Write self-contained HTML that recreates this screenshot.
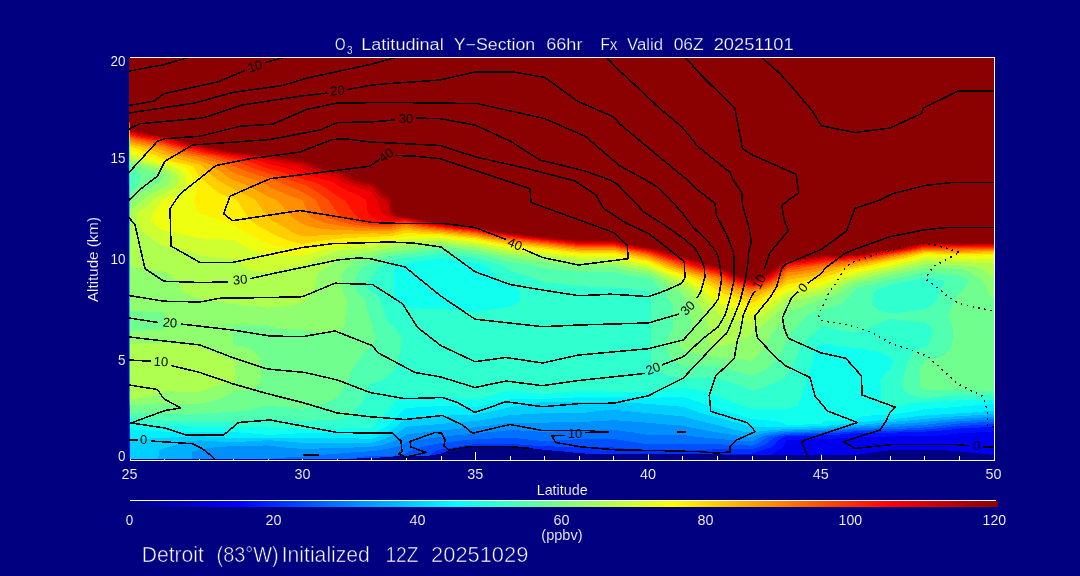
<!DOCTYPE html>
<html lang="en">
<head>
<meta charset="utf-8">
<title>O3 Latitudinal Y-Section 66hr Fx Valid 06Z 20251101</title>
<style>
html,body{margin:0;padding:0;background:#000080;}
body{width:1080px;height:576px;overflow:hidden;}
svg{display:block;}
text{font-family:"Liberation Sans",sans-serif;fill:#fff;}
#labels text{stroke:#000080;stroke-width:0.15px;}
#labels .tt{stroke-width:0.25px;}
#labels .tb{stroke-width:0.55px;}
.ax{fill:none;stroke:#fff;stroke-width:1;}
.cl{fill:none;stroke:#000;stroke-width:1.55;stroke-linejoin:round;shape-rendering:crispEdges;}
.dl{fill:none;stroke:#000;stroke-width:1.6;stroke-dasharray:1.6 4.4;shape-rendering:crispEdges;}
.lb{fill:#000;font-size:13px;text-anchor:middle;}
</style>
</head>
<body>
<svg width="1080" height="576" viewBox="0 0 1080 576">
<defs>
<linearGradient id="cb" x1="0" x2="1" y1="0" y2="0"><stop offset="0.0000" stop-color="#000080"/><stop offset="0.0312" stop-color="#00009f"/><stop offset="0.0625" stop-color="#0000bf"/><stop offset="0.0938" stop-color="#0000df"/><stop offset="0.1250" stop-color="#0000ff"/><stop offset="0.1562" stop-color="#0020ff"/><stop offset="0.1875" stop-color="#0040ff"/><stop offset="0.2188" stop-color="#0060ff"/><stop offset="0.2500" stop-color="#0080ff"/><stop offset="0.2812" stop-color="#009fff"/><stop offset="0.3125" stop-color="#00bfff"/><stop offset="0.3438" stop-color="#00dfff"/><stop offset="0.3750" stop-color="#00ffff"/><stop offset="0.4062" stop-color="#20ffdf"/><stop offset="0.4375" stop-color="#40ffbf"/><stop offset="0.4688" stop-color="#60ff9f"/><stop offset="0.5000" stop-color="#80ff80"/><stop offset="0.5312" stop-color="#9fff60"/><stop offset="0.5625" stop-color="#bfff40"/><stop offset="0.5938" stop-color="#dfff20"/><stop offset="0.6250" stop-color="#ffff00"/><stop offset="0.6562" stop-color="#ffdf00"/><stop offset="0.6875" stop-color="#ffbf00"/><stop offset="0.7188" stop-color="#ff9f00"/><stop offset="0.7500" stop-color="#ff8000"/><stop offset="0.7812" stop-color="#ff6000"/><stop offset="0.8125" stop-color="#ff4000"/><stop offset="0.8438" stop-color="#ff2000"/><stop offset="0.8750" stop-color="#ff0000"/><stop offset="0.9062" stop-color="#e20000"/><stop offset="0.9375" stop-color="#c50000"/><stop offset="0.9688" stop-color="#a80000"/><stop offset="1.0000" stop-color="#8b0000"/></linearGradient>
<linearGradient id="lc" x1="0" x2="0" y1="0" y2="1"><stop offset="0.0000" stop-color="#8b0000"/><stop offset="0.1596" stop-color="#8b0000"/><stop offset="0.1621" stop-color="#ff6e00"/><stop offset="0.1746" stop-color="#ff6e00"/><stop offset="0.1820" stop-color="#ffa200"/><stop offset="0.1970" stop-color="#ffd500"/><stop offset="0.1995" stop-color="#44ffbb"/><stop offset="0.2294" stop-color="#2bffd4"/><stop offset="0.2668" stop-color="#00ffff"/><stop offset="0.3292" stop-color="#00c3ff"/><stop offset="0.6035" stop-color="#00b2ff"/><stop offset="0.8529" stop-color="#0088ff"/><stop offset="0.8728" stop-color="#004dff"/><stop offset="0.9526" stop-color="#001aff"/><stop offset="1.0000" stop-color="#0000ff"/></linearGradient>
<clipPath id="box"><rect x="130" y="58" width="864" height="401"/></clipPath>
<clipPath id="lbox"><rect x="129" y="58" width="865" height="402"/></clipPath>
<clipPath id="nv"><path d="M345,459L380,457.5L400,456L430,455.5L441,453.5L450,450L460,448L470,446.3L508,446.3L520,447.3L533,448.7L550,450.3L566,451.7L580,453.3L600,454.2L760,454.6L855,455L866,453.5L877,451.7L893,450L910,449.7L940,449.8L960,451.5L977,453.3L995,455L996,461L345,461Z"/><rect x="129" y="459" width="866" height="2"/></clipPath>
</defs>
<rect width="1080" height="576" fill="#000080"/>
<g id="field" clip-path="url(#box)" shape-rendering="crispEdges">
<rect x="129" y="57" width="866" height="404" fill="#00008f"/>
<path fill="#0000af" d="M128,56L996,56L996,461L128,461Z"/>
<path fill="#0000cf" d="M128,56L996,56L996,461L128,461Z"/>
<path fill="#0000ef" d="M128,56L996,56L996,461L128,461Z"/>
<path fill="#0010ff" d="M128,56L996,56L996,431.3L983.1,432L968.9,433L959.9,433.3L951.7,434L945.9,435L932.8,436L925.3,436.3L890.7,436.4L866,437L856.1,437.3L842.3,438L827.1,439L821.5,439.2L786.9,440.2L785.8,441L785,443L784,445L783.3,446L782.5,447L781.5,448L780.3,449L778.8,450L776.9,451L775.6,452L774.1,453L772.5,454L770.5,455L768.3,456L765.9,457L763.1,458L760,459L760,461L128,461Z"/>
<path fill="#0030ff" d="M128,56L996,56L996,426.5L987,427L972.2,428L959.9,428.5L955.1,429L948.2,430L936.7,431L925.3,431.6L913.8,432L890.7,432.7L856.1,432.7L852.5,433L846.5,434L832.5,435L821.5,435.4L799.5,436L786.9,436.4L783.3,437L782,438L779.2,440L777.7,441L776.1,443L774.1,445L772.6,446L770.8,447L768.6,448L766,449L762.7,450L758.4,451L756.2,452L753.7,453L752.3,453.5L735,454L717.7,454.6L712.5,455L698.7,456L684.8,457L683.1,457.1L648.5,457.1L635.5,457L613.9,456.8L579.3,456.4L544.7,456.8L516.6,456L510.1,455.8L475.5,455.8L474.5,456L462.5,459L462.5,461L128,461Z"/>
<path fill="#0050ff" d="M128,56L996,56L996,424L978,425L959.9,426L951.3,427L941.7,428L931.1,429L925.3,429.5L915.4,430L890.7,431L856.1,431.2L846.9,432L834.6,433L821.5,434L786.9,435L780.6,436L775.7,437L771.2,440L769.6,441L767.2,443L764.2,445L761.8,446L759.1,447L755.7,448L752.3,448.9L738.5,449L717.7,449.3L683.1,450.5L648.5,450.2L644.1,450L629.5,449L618.5,448L613.9,447.5L579.3,447L544.7,446.3L540.4,446L526.5,445L513.3,444L510.1,443.8L475.5,444L467.8,445L460.7,446L456.2,447L450.5,448L442.8,449L440.9,449.2L437.4,450L434.4,452L432.8,453L429.8,455L428.2,456L426.7,457L425.1,458L423.6,459L423.6,461L128,461Z"/>
<path fill="#0070ff" d="M128,56L996,56L996,421.5L987.3,422L968.9,423L959.9,423.5L955.2,424L946.2,425L937.7,426L929.6,427L925.3,427.4L914.3,428L897.9,429L890.7,429.3L856.1,429.7L829.6,432L821.5,432.6L808.9,433L786.9,433.6L783.8,434L777.1,435L772,436L768.1,437L764.9,439L761.5,441L759.9,442L758.2,443L756.4,444L754.3,445L752.3,445.6L731.5,445L717.7,444.3L683.1,444L648.5,444.4L646.3,444L640.1,443L620.6,440L613.9,439L579.3,439L566.9,440L546.1,441L544.7,441.1L544.1,441L531.7,440L523.9,439L515,438L510.1,437.5L502.9,438L481.3,439L475.5,439.2L466.7,440L457.4,441L449.6,442L442.3,443L440.9,443.2L436.2,444L430.9,445L426.1,446L421.9,447L418.1,448L414.6,449L411.5,450L410,451L408.4,452L406.3,453.4L404.1,454L399.3,455L391.2,456L389,456.2L384.7,456L371.7,455.7L368.5,456L360.4,457L352.8,458L345.8,459L345.8,461L128,461Z"/>
<path fill="#008fff" d="M128,56L996,56L996,419.1L980.2,420L962.2,421L959.9,421.1L950.3,422L940.4,423L931.6,424L925.3,424.8L921.8,425L907.1,426L890.7,427L864.8,428L856.1,428.2L846.9,429L835.3,430L821.5,431.2L786.9,432.2L779.6,433L772.4,434L767.3,435L763.4,436L760.4,437L758.8,438L752.3,441.6L743.2,441L730.4,440L720.5,439L717.7,438.7L709.3,438L698.8,437L690.2,436L683.1,435L648.5,435L643.1,434L637.1,433L630.3,432L622.7,431L613.9,430L579.3,430L561.6,431L544.7,432L529.3,431L510.1,430L501.1,431L491.5,432L481,433L475.5,433.5L470.3,434L459.5,435L448.9,436L440.9,436.8L439,437L431.8,438L424.9,439L418.4,440L413.2,441L408.5,442L406.3,442.5L405.4,443L403.4,444L401.1,445L398.4,446L395.2,447L391.3,448L389,448.5L386.4,449L380.4,450L373.5,451L371.7,451.2L357.9,452L344.8,453L337.1,453.8L333.3,454L319.8,455L308.8,456L302.5,456.7L294.1,457L277.6,458L267.9,459L233.3,459L233.3,461L128,461Z"/>
<path fill="#00afff" d="M128,56L996,56L996,416.8L991.7,417L974,418L959.9,418.8L956.8,419L944.4,420L934.3,421L925.3,421.9L924.5,422L911.9,423L898.1,424L890.7,424.5L885.5,425L871.2,426L856.1,426.7L852.3,427L841.1,428L829.6,429L821.5,429.7L786.9,430.7L782.7,431L772.5,432L765.8,433L760.9,434L757.4,435L754.8,436L752.8,437L752.3,437.3L749.4,437L740.5,436L733,435L726.4,434L720.7,433L717.7,432.4L714.6,432L708.8,431L703.3,430L698.2,429L693.4,428L688.9,427L684.6,426L683.1,425.6L673.7,425L661,424L650.3,423L648.5,422.8L639.1,422L624.5,421L613.9,420.2L600.4,421L579.3,422L577.1,422L544.7,422.6L510.1,422.5L507,423L500.5,424L493.3,425L485.5,426L476.9,427L475.5,427.2L466.4,428L455.7,429L445.2,430L440.9,430.4L435.1,431L426,432L417.6,433L409.9,434L406.3,434.5L403.8,436L402,437L400.1,438L398.1,439L393.9,441L391.4,442L389,442.9L385,444L380.9,445L376.3,446L371.7,446.9L367.1,447L340.4,448L337.1,448.1L302.5,448.9L290.4,448L280.4,447L272.4,446L267.9,445.3L250.6,446L233.3,446.2L216,447L209.4,448L202.4,449L198.7,449.5L197.2,450L194.5,451L192.2,452L192.2,461L128,461Z"/>
<path fill="#00cfff" d="M128,56L996,56L996,413.9L994,414L979,415L962.2,416L959.9,416.1L947.4,417L934.7,418L925.3,418.8L923.6,419L913.7,420L902.5,421L890.7,421.9L890,422L879.9,423L869.5,424L859.6,425L856.1,425.2L844.6,426L833,427L823.8,428L821.5,428.2L786.9,429.2L771.5,430L761.6,431L755.8,432L752.3,432.9L746,432L740.1,431L735,430L724.8,427L721.3,426L717.7,425L712.9,424L708.3,423L704,422L700,421L696.1,420L692.4,419L688.9,418L685.5,417L683.1,416.2L680.2,416L668.7,415L657.1,414L648.5,413.2L645.8,413L635.5,412L626.3,411L617.8,410L613.9,409.5L609.1,410L599.8,411L591,412L582.4,413L579.3,413.4L544.7,413.2L531.7,414L510.1,415L505.2,416L500.2,417L494.8,418L488.9,419L482.7,420L475.9,421L475.5,421.1L461.8,422L450,423L439.9,424L427.7,425L414.6,426L406.3,426.8L404.7,428L401.9,430L400.3,431L396.9,433L393.1,435L391.1,436L386.9,438L384.4,439L381.6,440L378.2,441L374.1,442L371.7,442.6L337.1,443L302.5,443L294.5,442L282.3,441L267.9,440.2L253.5,441L239.1,442L233.3,442.5L224.7,442L208.6,441L198.7,440.3L191.3,441L183.4,442L180.4,443L177.3,444L174.3,445L171.2,446L168.2,447L165.1,448L164.1,448.3L159.3,450L159.1,452L158.9,453L158.7,455L158.5,456L158.4,457L158.2,458L158.1,459L158.1,461L128,461Z"/>
<path fill="#00efff" d="M128,56L996,56L996,410.6L990.1,411L978.9,412L964.7,413L959.9,413.3L948,414L932.7,415L925.3,415.5L920,416L910.9,417L903.9,418L893.5,419L890.7,419.2L883.1,420L862.9,422L856.1,422.7L852.5,423L844.7,424L834.7,425L822.9,426L821.5,426.1L791.8,427L786.9,427.1L752.3,427.3L744.7,425L741.3,424L734.3,422L727.1,420L723.4,419L717.7,417.5L711.8,416L708.1,415L704.5,414L701.1,413L697.9,412L695.2,411L692.4,410L689.5,409L683.5,407L683.1,406.9L673,406L650,404L648.5,403.9L636.7,403L613.9,402.1L603.5,402L579.3,401.7L544.7,401.8L541.5,402L537.2,403L532.3,404L526.7,405L520.2,406L512.6,407L510.1,407.3L506.9,408L502.4,409L497.7,410L487.9,412L482.9,413L478,414L475.5,414.5L461.4,415L440.9,415.8L438.1,416L426.1,417L413.9,418L406.3,418.6L405.8,419L404.4,420L400.8,423L399.7,424L398.7,425L397.3,426L395.8,427L392.6,429L385.4,433L383.7,434L382.1,435L379.8,436L377.2,437L374.2,438L371.7,438.8L337.1,438L302.5,438L267.9,437.6L233.3,438L217.6,437L198.7,436.2L178.7,437L164.1,437.9L160.8,438L142.1,439L135.6,440L133,441L131,442L129.3,443L128,444Z"/>
<path fill="#10ffef" d="M128,56L996,56L996,404L980,405L967.1,406L959.9,406.7L955.2,407L940.7,408L925.3,409L920.5,410L915.4,411L909.9,412L904,413L896.5,414L890.7,414.7L877.2,415L864.3,416L860.2,417L858.1,418L856.7,419L856.1,420L826.1,421L823.2,422L822.1,423L821.5,424L786.9,425L785.1,424L782.6,423L779.2,422L774,421L765.5,420L752.3,419.2L751.7,419L748.2,418L744.6,417L741.7,416L738.5,415L735,414L731.2,413L727.1,412L724,411L720.8,410L717.7,409L715.2,408L707.1,405L698.4,402L692.2,400L689.3,399L686,398L683.1,397.2L648.5,397.7L613.9,397.3L579.3,397.2L565.5,398L544.7,398.8L518.2,399L510.1,399.2L502.5,401L493.9,403L484.9,405L475.5,407L440.9,406L406.3,408L404.9,409L402.5,411L400.5,413L398.7,415L396.7,417L395.5,418L394.4,419L392.4,421L390.6,423L389,425L386.9,426L384.9,427L381.1,429L377.7,431L376.1,432L373.1,434L371.7,435L356,434L337.1,433.2L302.5,433.2L283.6,434L267.9,435L258,434L246.6,433L233.3,432L198.7,432L164.1,431.7L153.8,431L140,430L128,429Z"/>
<path fill="#30ffcf" d="M128,56L996,56L996,399.5L967.3,400L959.9,400.1L948.6,401L930.8,402L925.3,402.2L912.3,403L905.1,404L903.4,405L898.6,406L893.4,407L890.7,407.5L888.2,407L884.1,406L881,405L880.9,404L880.9,400L880.8,399L880.8,395L880.7,394L880.7,390L880.6,389L880.6,385L880.5,384L880.5,381L880.4,380L883.2,376L884.1,375L884.9,374L887.9,371L889.1,370L890.7,368.8L891,368L891.5,367L892.7,364L893.7,362L893.2,361L892.6,360L891.9,359L890.7,357.5L887.8,356L886.1,355L883.8,354L881.1,353L877.8,352L873.9,351L869.1,350L863.4,349L856.1,348.1L854.8,348L845.4,347L837.7,346L831.4,345L826.6,344L821.5,343L820.3,344L819.2,345L818.2,346L817.1,347L816.2,348L815.2,349L814.3,350L814.1,352L813.9,353L813.8,354L813.4,356L813.3,357L812.1,363L811.8,364L811.4,366L811.1,367L810.9,368L810.6,369L810.4,370L808.6,376L808.2,377L807.9,378L807.5,379L804.8,388L804.4,389L803.8,391L802.6,394L802.3,395L801.9,396L801.4,397L800.6,399L800.1,400L799.7,401L797.7,405L795.5,406L792.8,407L789.7,408L786.9,408.8L752.3,408.8L749.9,408L743.7,406L740.5,405L738.3,404L735.8,403L733.1,402L730.1,401L726.7,400L724.4,399L717.2,396L715,395L712.5,394L709.6,393L706.4,392L702.5,391L697.7,390L692,389L684.8,388L683.1,387.8L681,388L671.1,389L662.3,390L654.5,391L648.5,391.8L613.9,391.8L587.3,391L579.3,390.8L576.9,391L565.6,392L558.4,393L545.7,394L544.7,394.1L543.6,394L530.5,393L524.5,392L516.4,391L510.1,390.4L506.6,391L502.2,392L498.9,393L496.3,394L494.2,395L490.3,396L486.3,397L482.1,398L475.5,399.5L470.1,399L460.5,398L452.1,397L444.6,396L440.9,395.4L409.2,396L406.3,396.1L403.9,397L401.8,398L399.9,399L398.3,400L396.8,401L395.5,402L394.4,403L392.4,405L390.8,407L389.4,409L389,409.8L388.7,410L386.5,412L384.7,414L383.9,415L382.5,416L381.3,417L380.3,418L379.4,419L378,421L377.4,422L376.4,424L376,425L374.2,426L371.7,427.5L359.3,428L337.1,428.6L302.5,428.6L280.3,428L267.9,427.5L250.6,427L233.3,426.6L198.7,426.6L164.1,426.1L163.3,426L153.3,425L142.3,424L128,422.8ZM440.9,258.1L434.1,259L427.2,260L420.6,261L414.5,262L409.2,263L406.3,263.4L404.5,264L401.9,265L399.6,266L397.6,267L396,268L394.4,270L394.4,300L395.2,301L396.1,302L397.2,303L398.4,304L399.8,305L401.4,306L403.3,307L405.6,308L406.3,308.2L440.9,309L454.1,310L466.6,311L475.5,311.8L482,311L489.7,310L496.4,309L502.3,308L507.7,307L510.1,306.5L511.6,306L514.3,305L516.5,304L518.4,303L520.1,302L520.1,301L520,300L520,296L519.9,295L519.9,292L519.8,291L519.8,290L518.3,289L516.6,288L514.7,287L512.6,286L507.6,284L505.4,283L503.5,282L501.7,281L500,280L498.6,279L497.3,278L496.1,277L495,276L493,274L491.4,272L490,270L488.2,267L485.6,266L482.6,265L478.9,264L475.5,263.1L474.9,263L468.1,262L461.2,261L454.2,260L447.3,259Z"/>
<path fill="#50ffaf" d="M128,56L996,56L996,395.5L964.4,395L959.9,394.9L958.6,395L946.9,396L936.3,397L926.8,398L925.3,398.2L917.7,397L913.5,396L910.4,395L908,394L906.8,393L905.8,392L904.9,391L904.2,390L903.4,389L902.2,387L902.2,380L902.6,379L904.7,372L904.9,371L905.5,369L905.7,368L906,367L906.4,365L907.1,364L907.9,363L908.6,362L909.5,359L910.3,357L910.8,356L912,354L912.8,353L913.7,352L914.9,351L916.3,350L918.5,349L921.2,348L925.3,346.8L926.8,346L928.4,345L929.2,343L929.5,342L929.9,341L930.2,340L930.6,339L933.3,330L930.6,327L927.3,324L926,323L925.3,322.5L918.8,322L908,321L899.3,320L892.3,319L890.7,318.8L889.9,319L886.9,320L884,321L881.3,322L878.8,323L874.2,325L872.1,326L870.1,327L868.2,328L864.8,330L861.7,331L858.1,332L856.1,332.5L853,332L846.2,331L838.8,330L834.9,329L830.5,328L825.6,327L821.5,326.2L820.9,327L818.2,330L815.2,332L812.6,334L811.4,335L808.1,338L807.2,339L806.2,340L805.4,341L804.5,342L802.9,344L800.8,347L800.2,348L799.5,349L798.9,350L798.7,351L798.1,353L797.9,354L797.6,355L795.6,360L795.1,361L794.7,362L793.7,364L793.3,365L792.8,366L792.2,367L791.2,369L788.8,373L788.1,374L787.5,375L786.7,376L785.4,377L784,378L782.3,379L780.4,380L778.6,381L776.3,382L774.5,383L772.5,384L770.3,385L767.9,386L765.2,387L762.2,388L758.8,389L755,390L752.3,390.6L743.7,387L741.2,386L733.4,383L730.7,382L727.3,381L724.2,380L720.2,379L717.7,378.4L683.1,378.3L680.2,378L673.6,377L668.9,376L665.3,375L662.6,374L660.3,373L658.5,372L657.1,371L655.8,370L654.7,369L652.9,367L652.3,365L651.5,361L651,356L651,355L650.8,353L650.8,352L650.7,351L650.7,350L650.6,349L650.6,348L650.5,347L650.5,346L650.4,345L650.5,344L650.5,343L650.6,342L650.6,341L650.7,340L650.7,339L650.8,338L650.8,337L651,335L651,334L651.4,330L651.4,305L650.9,300L650.9,299L650.7,297L650.7,296L650.6,295L649.4,293L648.9,292L648.5,291.4L645.3,291L639,290L630.8,289L621.2,288L613.9,287.3L600.6,287L579.3,286.2L577.2,286L570.7,285L562,284L551.2,283L544.7,282.5L543.6,282L541.3,281L538.9,280L536.4,279L531,277L528.1,276L525.1,275L521.9,274L518.6,273L515.1,272L511.4,271L510.1,270.7L507.9,269L506.7,268L505.6,267L504,266L502.2,265L494.6,263L487.2,261L480,259L476.5,258L475.5,257.7L470.6,257L461.8,256L454.4,255L448,254L442.4,253L440.9,252.7L439.4,253L433.8,254L427.4,255L420,256L411.2,257L406.3,257.5L403.2,258L398.6,259L392.9,260L390.4,261L389,261.7L387.4,263L386,264L384.3,265L382.4,266L380.1,267L378.9,268L377.8,269L376.8,270L376.3,271L375.7,272L373.6,275L372.7,276L371.7,277L370.5,279L368,284L367.2,286L366.7,287L367.7,288L368.6,289L369.6,290L371.7,291.9L372,292L373.8,293L375.3,294L376.5,295L377.5,296L378.4,297L379.8,299L380.4,300L380.6,301L382.1,306L382.5,307L383.1,309L383.9,311L384.2,312L386.6,318L387.1,319L387.5,320L388,321L388.4,322L388.9,323L392.2,326L395.2,329L398.8,333L402,337L401.2,345L401,346L400.8,348L400.6,349L400.5,350L399.1,357L398.8,358L398.6,359L398,361L397.6,362L397.3,363L396.5,365L395.5,367L394.3,369L393.6,370L392.8,371L391.9,372L390.9,373L389.7,374L389,374.5L387.8,376L386.8,377L385.6,378L384.1,379L382.2,380L379.6,381L376,382L371.7,382.8L371.6,383L368.4,387L368.1,388L365.7,394L365.2,395L364.8,396L364.3,397L363.9,398L363.4,399L363,400L360,405L359.3,406L358.7,407L357.9,408L357.2,409L354.8,412L353,414L352,415L349.7,416L347,417L343.7,418L339.6,419L337.1,419.5L327.2,420L302.5,421L288,420L274.4,419L267.9,418.5L260.8,419L246,420L233.3,420.8L198.7,421L164.1,420.7L155.1,420L142.9,419L128,418.1ZM925.3,277.8L924.3,278L920,279L915.2,280L909.8,281L903.7,282L900.6,283L896.5,284L890.7,285L887.8,286L884.8,287L881.5,288L878.1,289L875.7,290L875,291L873.4,293L872.2,305L873.2,306L874.4,307L875.8,308L877.4,309L879.4,310L881.8,311L884.9,312L889,313L890.7,313.3L893.9,313L903.3,312L912.1,311L920.4,310L925.3,309.4L927.7,308L929.2,307L930.6,306L933,304L934.1,303L935.1,302L936,301L936.8,300L938,296L938.4,295L938.7,294L940.3,290L941.3,288L941.9,287L942.4,286L943,285L944.4,283L945.2,282L943.7,281L941.5,280L934.5,279L927.2,278Z"/>
<path fill="#70ff8f" d="M128,56L996,56L996,391.3L991.9,391L971.9,390L959.9,389.3L925.3,390.5L924.3,390L922.6,389L921,388L919.5,387L919.5,380L919.9,376L919.9,375L920.1,373L920.1,372L920.3,370L920.3,369L920.5,367L920.5,366L920.6,365L923.6,362L925.3,360.5L928.4,360L933.7,359L937.4,358L940.2,357L942.4,356L944.2,355L945.6,354L946.8,353L947.8,352L948.7,351L950.1,349L950.6,348L951.2,347L952,345L952.7,338L952.7,337L953,334L953,333L953.2,331L953.2,330L952.6,327L951.1,322L950.3,320L949.8,319L949.4,318L948.2,316L947.5,315L948.4,314L949.2,313L951,310L952.6,306L953.2,304L953.4,303L953.7,302L954.1,300L955.5,298L957.9,295L958.8,294L961,292L962.1,291L963.1,290L964,289L965.6,287L966.3,286L966.9,285L967.3,284L968.5,280L964.7,278L962.7,277L960.6,276L959.9,275.7L954.9,275L947.3,274L938.2,273L925.3,272L921.1,273L917,274L912.8,275L908.5,276L903.9,277L898.7,278L890.7,279.4L884.3,281L879.8,282L876.1,283L869.7,285L866.2,286L862.5,287L858.6,288L856.1,288.6L855.4,289L854.7,290L852.9,292L851.9,293L851.4,294L850.8,295L850.1,296L849.3,297L848.1,298L846.7,299L845.8,300L844.8,301L843.6,302L842.2,303L840.5,304L838.4,305L835.8,306L832.5,307L827.9,308L821.5,309L819,310L816.3,311L813.5,312L811.3,313L809.3,314L807.5,315L798.5,325L797.5,326L795.7,328L794.7,329L793.8,330L791.6,332L791,333L790.3,334L789.7,335L789.2,336L788.6,337L787.6,339L787.2,340L786.3,342L785.8,343L785.4,344L784.9,345L784.5,346L783.5,348L783.1,349L782.1,351L781.5,352L781,353L779.8,355L779.1,356L774.3,362L769.8,367L768.3,368L766.7,369L764.9,370L763,371L760.9,372L758.5,373L756,374L753.1,375L752.3,375.2L751.3,375L747.2,374L739.2,372L731.6,370L724.2,368L720.6,367L717.7,366.4L691.1,366L683.1,365.8L681.2,365L679.1,364L677.3,363L675.7,362L674.3,361L673,360L672.2,359L670.1,356L668.9,354L668.4,353L667.8,352L667.4,351L666.4,349L664.8,345L666.4,341L667.4,339L667.8,338L668.4,337L668.9,336L670.1,334L672.2,331L673,330L673,305L670.6,302L669.9,301L668.1,298L667.6,297L667,296L666.6,295L665.8,294L664.4,292L663.6,291L661.9,290L660.5,289L659.2,288L658.1,287L657.1,286L655.5,284L654.1,282L653.5,281L652.3,280L648.5,277.9L638.4,277L631.3,276L626.6,275L623.4,274L617.6,273L613.9,272.2L579.3,272L567.5,271L560.4,270L552.2,269L544.7,268L538.3,267L533.2,266L529,265L523.1,264L516.8,263L510.1,262L502.5,260L498.8,259L491.6,257L486,256L481,255L476.6,254L475.5,253.8L470,253L463.4,252L455.8,251L447.7,250L440.9,249.2L434.1,250L426,251L418.4,252L411.8,253L406.3,253.8L404.4,254L397.2,255L390.7,256L389,256.3L386.5,257L383.4,258L380.7,259L378.2,260L376.5,261L374.5,262L372.3,263L369.5,264L366.9,265L364.6,266L362.4,267L361.8,268L361.1,269L360.5,270L359.8,271L359.2,272L357.1,275L356.9,276L356.3,278L356.1,279L355.8,280L355.4,282L355.1,283L354.7,285L354.6,286L354.4,287L356.2,290L356.9,291L357.7,292L358.4,293L359.3,294L360.1,295L363.1,298L365.5,300L366.9,307L367.2,308L367.6,310L368.2,312L368.4,313L370.2,319L370.6,320L370.9,321L371.9,324L372.2,325L372.4,326L374.2,332L374.6,333L374.9,334L375.3,335L375.6,336L376,337L374.8,340L374.3,341L373.9,342L371.7,346.4L369.6,348L366.8,350L364.6,352L361.9,355L361.1,356L359,359L357.8,361L357.3,362L356.5,363L355.1,365L353.9,367L351.9,371L350.7,374L350.4,375L350,376L348.8,380L344.6,386L342.8,389L342.1,390L340.9,392L339.5,394L338.9,395L337.1,397.5L334.4,399L332.8,400L330.2,401L327.5,402L324.6,403L321.5,404L318.1,405L314.4,406L310.4,407L302.5,408.8L293.9,408L282.3,407L270.8,406L267.9,405.8L266.7,406L262.1,407L257.7,408L253.5,409L249.5,410L241.6,411L233.3,411.8L229.8,412L210.2,413L198.7,413.5L164.1,413.5L128,412.5L128,194.3L130.3,192L131.4,191L133.8,189L135.1,188L136.6,187L137.8,185L139.6,183L140,181L140.3,180L140.7,178L141.3,176L141.5,175L139.8,174L138.5,173L137.5,172L136.6,171L135.9,170L133.6,169L129.4,167L128,166.2Z"/>
<path fill="#8fff70" d="M128,56L996,56L996,300L994.3,299L992.9,298L991.8,297L990.8,296L990,295L988.2,292L987,289L986.1,286L985.9,285L985.1,284L984.4,283L983.2,281L982.7,280L979.7,278L976.3,276L972.7,274L970.8,273L968.7,272L966.4,271L964,270L961.3,269L959.9,268.7L925.3,267.5L923.6,268L920.1,269L916.2,270L912,271L907.4,272L902.4,273L896.9,274L890.7,275L887.4,276L883.9,277L880.1,278L876,279L871.7,280L866.9,281L861.7,282L856.1,283L851,286L845.3,289L844,290L842.6,291L841,292L839.2,293L837.6,294L835.7,295L833.3,296L830.3,297L826.5,298L821.5,299L819.4,300L815,302L810.2,304L807.7,305L805.1,306L799.5,308L793.5,310L790.3,311L786.9,312L786.5,313L786,314L785.6,315L785.1,316L783.9,318L780.4,323L779.6,324L778.9,325L778,326L777.2,327L776.2,328L775.3,329L774.3,330L772.1,332L766.1,344L765.5,345L764.5,347L763.9,348L763.4,349L762.8,350L760.4,353L757.7,356L752.7,361L752.3,361.3L751,361L746.1,360L739.1,359L728,358L717.7,357.4L714,357L706.4,356L700.4,355L696.2,354L692.5,353L689.1,352L685.9,351L683.1,350L680.7,347L679.3,345L680.7,343L683.1,340L684.4,339L685.6,338L687.6,336L688.5,335L690.1,333L691.5,331L692.1,330L691.9,328L691.9,327L691.8,326L691.8,325L691.6,324L691.5,323L691.3,322L691,319L690.8,318L690,310L689.1,307L688.9,306L688.6,305L687.9,304L687.3,303L686.6,302L684.8,299L680.7,293L679.9,292L679,291L676.1,290L673.6,289L671.4,288L669.6,287L667.9,286L666.4,285L663.8,283L662.6,282L661.6,281L660.1,280L658.3,279L656.4,278L652.8,276L650.9,275L649.3,274L648.5,273.6L643.6,273L635.7,272L629.5,271L624.4,270L620.3,269L616.8,268L613.9,267L579.3,267L569.4,266L561.4,265L554.9,264L549.4,263L544.7,262L535,261L527.1,260L520.5,259L514.9,258L510.1,257L503.6,256L497.7,255L492.4,254L487.6,253L483.2,252L479.2,251L475.5,250L465.6,249L456.6,248L448.4,247L440.9,246L430.3,247L421.1,248L413.2,249L406.3,250L397.6,251L389,252L385.2,253L381.6,254L378.1,255L374.8,256L371.7,257L367.2,258L363.4,259L360.3,260L357.6,261L355.2,262L353.2,263L351.4,264L349.7,265L348.3,266L347,267L342.8,273L342,274L341.3,275L341.5,277L341.5,278L341.6,279L341.6,280L341.7,281L341.7,282L341.8,283L341.8,284L341.9,285L341.9,286L342,287L342.2,288L343.1,291L343.5,292L343.8,293L345.4,297L346.4,299L347,300L346.9,301L346.9,302L346.6,305L346.6,306L346.1,311L346.1,312L345.6,317L345.4,318L345,322L344.8,323L344.7,324L344.5,325L343.9,326L342.5,328L341.7,329L340.8,330L339.8,331L338.7,332L337.1,333.3L329.8,333L315.8,332L307.7,331L302.5,330L284.8,329L277.1,328L272.7,327L269.9,326L267.9,325L198.7,325L164.1,324L164.1,312L128,311L128,203.4L128.7,203L130.3,202L131.8,201L133.2,200L134.1,199L135.1,198L137.3,196L139.7,194L142.5,192L145.5,190L148.9,188L150.8,187L152.4,186L154.3,185L156.4,184L158.9,183L161.3,179L164.1,175L159.6,174L156.1,173L153.3,172L151,171L149.1,170L146.5,169L144,168L140.8,167L138,166L135.7,165L132.1,164L128.6,163L128,162.8ZM164.1,326L198.7,325L233.3,326L233.3,345L240.9,346L245.4,347L248.3,348L250.4,349L253.6,351L254.8,352L255.9,353L256.8,354L257.6,355L258.3,356L258.9,357L259.4,358L259.8,359L260.3,360L260.6,361L261,362L261,380L260.5,381L259.9,382L258.5,384L257.5,385L256.4,386L254.9,387L253.1,388L250.6,389L247.1,390L242,391L233.3,392L230.1,394L228.4,395L226.4,396L224.2,397L221.8,398L219.1,399L216,400L212.5,401L208.6,402L204,403L198.7,404L164.1,403.5L157.6,404L128,405L128,331L164.1,330Z"/>
<path fill="#afff50" d="M128,56L996,56L994.6,278L992,276L990.6,275L989.4,274L988.1,273L986.7,272L983.5,270L981.7,269L978.9,268L974.1,267L967.1,266L959.9,265.3L952.6,265L930.2,264L925.3,263.8L924.4,264L920.8,265L917,266L912.9,267L908.7,268L904.3,269L899.8,270L894.9,271L890.7,271.8L881,274L876.7,275L873,276L869,277L864.7,278L860,279L856.1,279.8L852.5,281L849.6,282L846.9,283L845.1,284L841.3,286L839.3,287L835.1,289L833.3,290L831.3,291L829.1,292L826.6,293L823.8,294L821.5,294.7L820,295L814.7,296L809.3,297L804.6,298L800.8,299L798.4,300L793.2,302L787.6,304L786.9,304.2L786,305L784.8,306L779.6,310L778.2,311L776.9,312L775.3,314L773.5,316L772.5,317L771.4,318L770.2,319L768.9,320L767.7,321L766.7,322L763.4,325L762.2,326L759.6,328L758.2,329L755.2,331L753.5,332L753,333L752.3,334.2L750.6,335L746.6,337L744.7,338L741.3,340L739.7,341L738.2,342L734.7,343L730.5,344L725.1,345L718.2,346L717.7,346.1L717.5,346L714,345L711.6,344L709.7,343L708.3,342L708.5,340L708.5,339L708.6,338L708.6,337L708.7,336L708.7,335L708.8,334L708.8,333L708.9,332L708.9,330L708.3,327L708.2,326L708,325L706.4,321L706.1,320L705.7,319L705.4,318L705,317L703.5,312L703.3,311L703,310L702,309L700.4,307L699,305L696.3,302L694.7,300L694,299L693.2,298L692.5,297L691.9,296L691.1,295L690.4,294L689.8,293L689.1,292L688.5,291L686.9,290L683.5,288L683.1,287.8L681,287L678.7,286L676.6,285L674.8,284L672.8,283L668,280L666,279L662.2,277L660.4,276L658.1,275L656,274L653.8,273L651.3,272L648.9,271L648.5,270.8L642.9,270L637.1,269L632.3,268L628.3,267L623.7,266L619.2,265L613.9,263.8L579.3,263.2L577.4,263L570.6,262L563.2,261L555.2,260L546.5,259L544.7,258.8L538.8,258L532.3,257L524.6,256L516,255L510.1,254.3L508.2,254L502.7,253L497.6,252L493.1,251L488.9,250L484,249L478.9,248L475.5,247.3L472.6,247L464.1,246L455.4,245L446.6,244L440.9,243.3L427.5,244L413.6,245L406.3,245.7L404.6,246L398.1,247L390.9,248L389,248.2L385,249L380.2,250L376,251L372.3,252L371.7,252.2L365.2,253L358.3,254L352.5,255L347.3,256L342.9,257L339,258L337.6,259L337.1,259.4L336.5,260L335.4,261L334.2,262L331.6,264L328.6,266L327,267L325.3,268L323.4,269L321.4,270L319.4,272L318.5,273L316.9,275L316.7,276L316.5,278L316.3,279L316.2,280L314.8,287L313.6,290L312.6,292L311.4,294L310,296L309.2,297L308.3,298L307.3,299L306.2,300L303.4,302L302.5,302.6L301.3,303L297.6,304L292.8,305L286.4,306L277.4,307L267.9,307.8L262.7,307L254.4,306L244,305L233.3,304.2L232.2,304L226.2,303L220.1,302L202.1,299L198.7,298.4L197.3,298L194.3,297L191.7,296L189.4,295L187.3,294L185.5,293L183.8,292L182.3,291L180.9,290L180.3,288L179.9,287L179.6,286L179.2,285L178.6,284L177.9,283L176.3,281L174.5,279L173.5,278L172.4,277L171.2,276L168.4,274L166.7,273L164.9,272L164.1,271.6L158.7,271L150.7,270L144.1,269L138.4,268L133.6,267L129.4,266L128,265.6L128,209.9L129.8,209L131.7,208L133.5,207L135.1,206L138.1,204L139.4,203L140.6,202L142.8,200L144,199L146.6,197L151.1,194L152.8,193L154.6,192L156.6,191L158.5,190L160.5,189L162.7,188L164.1,187.4L164.8,187L166.4,186L169,184L170.1,183L170.4,180L170.6,179L171,175L169.6,174L168.1,173L166.5,172L164.1,170.6L162.2,170L159.3,169L156.6,168L152.2,167L148.5,166L145.4,165L141.6,164L137.9,163L134.4,162L131.1,161L128,160.1ZM140.9,343L164.1,342.5L168.8,343L177.8,344L186.3,345L194.4,346L198.7,346.6L199.9,347L202.6,348L207.8,350L215.3,353L217.7,354L220,355L221.7,356L223.5,357L225.5,358L227.8,359L230.4,360L233.3,360.9L233.4,361L235,362L235,380L233.3,380.8L232.4,381L228.7,382L225.2,383L221.8,384L218.6,385L215.5,386L212.5,387L209.6,388L204.2,390L201.6,391L198.7,392.2L193.4,392L164.1,391.1L161.2,392L158.6,393L156.5,394L154.6,395L151,396L146.6,397L140.9,398L133.8,399L128,399.6L128,343.2Z"/>
<path fill="#cfff30" d="M128,56L996,56L996,264.2L995.4,264L988.8,263L959.9,262.1L958.7,262L940.9,261L925.3,260.1L922.4,261L918.7,262L915.1,263L911.4,264L907.4,265L903.1,266L898.6,267L893.8,268L890.7,268.6L884.4,270L880,271L875.7,272L871.3,273L867,274L856.1,276.6L854.8,277L851.7,278L848.7,279L845.8,280L843,281L840.3,282L837.7,283L835.8,284L833.7,285L831.7,286L827.3,288L825,289L822.6,290L821.5,290.4L818.5,291L813.2,292L808,293L802.7,294L797.3,295L792,296L786.9,296.9L786.8,297L785.3,298L784.1,299L783,300L779.4,303L776.8,305L774,307L772.5,308L766.9,312L765.8,313L764.6,314L763.3,315L761.9,316L760.4,317L758.8,318L757.1,319L755.2,320L753.5,321L752.3,321.9L743.6,321L735.4,320L729.4,319L725.5,318L722.7,317L720.7,316L719.2,315L718,314L717.7,313.8L717.3,313L716.9,312L716.4,311L716,310L714.4,309L713,308L711.7,307L710.5,306L709.4,305L708.2,304L706,302L704,300L701.3,297L700.5,296L698.5,294L697.6,293L696,291L694.4,290L692.7,289L691.1,288L687.7,286L684.1,284L683.1,283.5L681.9,283L679.7,282L677.7,281L675.8,280L671.8,278L668,276L665.2,275L662.8,274L660.3,273L655.1,271L652.7,270L650.4,269L648.5,268.1L647.8,268L642.7,267L637.8,266L633.1,265L628.5,264L619.5,262L615.4,261L613.9,260.6L594.4,260L579.3,259.6L573.3,259L564.3,258L555.9,257L544.7,255.6L539.5,255L531,254L522.3,253L513.3,252L510.1,251.6L507,251L502.3,250L497.5,249L492.6,248L487.6,247L482.5,246L475.5,244.7L468.9,244L459.9,243L451.5,242L443.6,241L440.9,240.7L427.9,241L406.3,241.6L404.1,242L399.6,243L393.7,244L389,244.6L386.1,245L380.4,246L371.7,247.5L365.9,248L355.8,249L343.9,250L337.1,251L331.9,253L329.1,254L323.3,256L320.2,257L316.9,258L313.7,260L311.9,261L310,262L308,263L305.9,264L303.7,265L302.5,265.5L298.6,266L291.7,267L285.9,268L280.9,269L276.5,270L273.5,271L269.9,272L267.9,272.5L262.1,272L254.9,271L250.6,270L247.7,269L245.7,268L244.1,267L242.9,266L242,265L241.2,264L240.5,263L240,262L233.3,259.2L230.9,259L219.2,258L210.6,257L204,256L198.7,255L196.1,254L193.2,253L190.1,252L186.6,251L182.7,250L176.2,249L170.9,248L166.5,247L164.1,246.4L161.2,245L159.3,244L157.7,243L156.2,242L153.6,240L152.5,239L151.5,238L150.6,237L148.7,236L147.2,235L145.8,234L144.7,233L143.7,232L141.9,230L141.2,229L139.4,226L139,225L138.5,224L137.7,222L137.4,221L137,220L137.2,219L137.3,218L137.5,217L137.6,216L137.8,215L137.9,214L138.3,212L140.1,211L141.7,210L143.2,209L144.6,208L147,206L148.1,205L149.1,204L150.9,202L152.5,200L155.5,198L157.1,197L158.8,196L160.6,195L162.6,194L164.1,193.2L164.8,193L167.3,192L169.4,191L171.1,190L172.6,189L174,188L175.2,187L176.1,186L176.9,185L177.6,184L178.2,183L178.1,182L178.1,180L178,179L178,178L177.9,177L177.9,175L175.5,173L172.7,171L171.2,170L169.5,169L167.7,168L164.1,167.1L159,166L155.1,165L151,164L147.2,163L143.5,162L140.6,161L137.5,160L134.1,159L130.5,158L128,157.4Z"/>
<path fill="#efff10" d="M128,56L996,56L996,259L959.9,258.8L942.8,258L925.3,257.3L923.2,258L919.7,259L915.8,260L911.4,261L906.4,262L902.4,263L898.3,264L893.9,265L890.7,265.7L885.4,267L880.9,268L875.8,269L870.3,270L865.9,271L857.3,273L856.1,273.3L853.8,274L850.8,275L847.7,276L839,279L836.2,280L833.5,281L830.9,282L828.5,283L826.4,284L822,286L821.5,286.2L801.4,290L796,291L790.7,292L786.9,292.7L786.4,293L780.7,296L778.7,297L777,298L771.8,302L769,304L764.5,307L761.3,309L759.9,310L755.4,313L753.8,314L752.3,314.9L748,314L744.1,313L741,312L738.3,311L736.1,310L733,309L730,308L726.9,307L724.1,306L721.4,305L718.9,304L717.7,303.5L717,303L715.8,302L714.5,301L713.4,300L712.2,299L711.1,298L709.1,296L707.8,295L706.6,294L704.4,292L703.4,291L701.8,290L700.3,289L697.1,287L695.4,286L691.8,284L689.7,283L687.7,282L685.6,281L683.6,280L683.1,279.8L675.5,276L672.4,275L664,272L661.3,271L656.3,269L651.9,267L649.8,266L648.5,265.3L642.1,264L637.5,263L632.2,262L627,261L622.7,260L619,259L615.9,258L613.9,257.3L594.4,257L579.3,256.8L563.6,255L555,254L546,253L544.7,252.8L529,251L520.4,250L511.4,249L510.1,248.8L501.3,247L496.3,246L489.5,245L483.5,244L478.5,243L475.5,242.3L472.4,242L463.9,241L455.2,240L445.9,239L440.9,238.3L406.3,238.8L399.5,240L393.7,241L389,241.8L386.8,242L377.3,243L371.7,243.8L368.8,244L345.8,246L337.1,246.8L335.6,247L330.2,248L325.3,249L321,250L318.2,251L315.3,252L312.3,253L309.2,254L305.9,255L302.5,256L267.9,255.8L265.3,255L262.3,254L259.5,253L257,252L254.6,251L252.3,250L250.2,249L248.2,248L246.3,247L244.5,246L242.8,245L240.8,244L235.1,241L233.3,240L213.8,239L198.7,238.3L197.5,238L193.9,237L190,236L185.8,235L181.4,234L176.7,233L171.6,232L166.4,231L164.1,230.6L162.9,230L161.1,229L159.4,228L156.6,226L155.4,225L153.2,223L151.4,221L150.6,220L150.9,219L151.3,218L151.6,217L153.6,212L154.7,211L155.7,210L156.6,209L158.2,207L158.9,206L160.7,203L162.2,200L164.1,198.9L168.2,198L171.8,197L174.6,196L176.8,195L178.7,194L180.2,193L181.5,192L182.6,191L183.5,190L185.6,187L186.2,184L186.3,183L184.7,175L183.8,174L181.8,172L179.4,170L178.1,169L176.6,168L173.6,167L169.8,166L164.9,165L164.1,164.8L160.5,164L156.5,163L152.6,162L150,161L147.2,160L144.3,159L141,158L137.5,157L135,156L128,153.3Z"/>
<path fill="#ffef00" d="M128,56L996,56L996,255.4L959.9,255.7L935.9,255L925.3,254.7L924.1,255L921.2,256L918.1,257L914.5,258L910.5,259L905.8,260L900.4,261L894,262L890.7,262.8L886.5,264L882.6,265L878.4,266L873.7,267L868.5,268L862.7,269L856.1,270L852.8,271L843.5,274L840.5,275L837.6,276L832,278L826.6,280L824,281L821.5,282L810.7,284L786.9,288.5L786.1,289L784.3,290L782.3,291L776.6,294L770.6,297L768.8,298L767.3,299L764.5,301L761.5,303L756.7,306L755,307L752.3,308.5L750.4,308L746.8,307L743.3,306L740.1,305L737.1,304L734.2,303L731.4,302L726.4,300L721.8,298L719.6,297L717.7,296L716.1,295L713.3,293L712,292L710.8,291L704.8,287L703.2,286L699.4,284L697.3,283L693.3,281L691.2,280L687.2,278L685,277L683.1,276L679.5,275L676.3,274L673.3,273L670.4,272L667.6,271L664.9,270L662.3,269L657.5,267L655.2,266L651.2,264L649.4,263L648.5,262.6L644.9,262L638.6,261L633.3,260L628.9,259L625,258L621.7,257L618.8,256L616.1,255L613.9,254L579.3,254L566,253L556.7,252L549.9,251L544.7,250L531.4,249L522.1,248L515.3,247L510.1,246L501.9,245L494.9,244L489,243L483.9,242L479.4,241L475.5,240L463.7,239L454.4,238L447,237L440.9,236L406.3,236L400.7,237L395,238L389,239L371.7,240L359.7,241L348.6,242L337.1,243L329.8,244L323.6,245L318.2,246L313.5,247L309.4,248L305.8,249L302.5,250L293.2,249L286.1,248L280.5,247L276,246L272.4,245L269.3,244L267.9,243.5L266.8,243L264.5,242L262.3,241L258.1,239L254.1,237L250.3,235L244.9,232L243.2,231L241.4,230L239.8,229L238.1,228L233.3,225L227.1,223L224.1,222L218.5,220L213.1,218L210.5,217L208.1,216L205.6,215L203.3,214L200.9,213L198.7,212L197.7,211L196.9,210L195.9,208L195.5,207L194.6,204L194.2,202L194.1,201L193.9,200L194.4,199L195,197L195.2,196L195.3,195L195.5,194L195.7,192L195.7,191L195.9,189L195.9,187L195.1,185L194.5,183L192.9,179L192.6,178L192.2,177L191.6,175L190.2,173L189.4,172L187.6,170L186.6,169L185.5,168L183.5,167L180.9,166L176.7,165L171.9,164L166.5,163L164.1,162.6L161.7,162L159.4,161L157,160L154.4,159L151.6,158L148.6,157L146,156L143.5,155L138.1,153L135.5,152L128,149Z"/>
<path fill="#ffcf00" d="M128,56L996,56L996,253.5L972.8,254L959.9,254.2L951.3,254L925.3,253.2L921.6,254L917.4,255L913.6,256L910,257L905.9,258L901.2,259L895.8,260L890.7,260.8L889.8,261L883.9,262L880.3,263L876.3,264L872,265L867.2,266L862,267L856.1,268L850.3,269L845.3,270L839.1,272L836.1,273L830.3,275L827.6,276L824.8,277L822.2,278L821.5,278.2L816.8,279L810.5,280L804.4,281L798.7,282L793.3,283L786.9,284.2L786,285L784.7,286L783.1,287L781.4,288L779.3,289L774.5,291L772.6,292L770.6,293L768.7,294L766.6,295L764.6,296L762.5,297L760.5,298L758.8,299L755.8,301L754.2,302L752.3,303.1L751.8,303L748.6,302L745.6,301L742.7,300L740,299L734,297L731.4,296L728.5,295L725.8,294L723.2,293L720.8,292L718.5,291L717.7,290.6L716.8,290L715.4,289L713.9,288L712.5,287L711,286L705,283L702.9,282L698.9,280L696.8,279L694.8,278L692.2,277L689.8,276L686.4,275L679.8,273L676.7,272L670.9,270L668.2,269L665.7,268L663.1,267L660.7,266L658.4,265L656.3,264L654.3,263L652,262L649.2,261L648.5,260.8L643.9,260L638.7,259L634.2,258L630.2,257L626.8,256L623.5,255L620.6,254L613.9,252.5L579.3,252.5L573.7,252L564.6,251L557.7,250L549,249L544.7,248.5L539.1,248L530,247L523.1,246L514.4,245L510.1,244.5L506.3,244L499.6,243L493.7,242L488.6,241L484.1,240L478.2,239L475.5,238.5L470.2,238L461.2,237L453.9,236L440.9,234.5L424.7,234L408.5,233L406.3,232.8L405.5,233L401,234L396.2,235L390.9,236L389,236.3L371.7,236.7L366.2,237L349.4,238L337.1,238.9L336,239L326.3,240L319,241L313.3,242L307.4,243L302.5,244L297.4,243L293,242L290,241L287.1,240L284.4,239L281.9,238L279.5,237L277.3,236L275.2,235L273.2,234L271.3,233L269.6,232L267.9,231.1L267.8,231L262.1,228L258.5,226L256.8,225L255.3,224L252.7,222L250.3,220L244,211L243.4,210L242.7,209L242.1,208L241.4,207L240.8,206L240.1,205L238.9,203L238.2,202L237,200L235,199L233.3,198.1L232.8,198L229,197L225.9,196L223.3,195L221.1,194L219.2,193L217.6,192L216.2,191L214.9,190L213.8,189L212.8,188L211.9,187L210.5,186L209.2,185L207.8,184L206.5,183L204.1,181L203,180L201,178L198.7,175.5L198.5,175L198,174L197.6,173L197,172L196.5,171L195.9,170L194.5,168L193.4,167L192,166L188.5,165L184.5,164L179.9,163L174.7,162L171.3,161L168,160L164.8,159L164.1,158.8L162.2,158L159.6,157L157.1,156L154.5,155L148.9,153L146.2,152L138.4,149L134.7,148L130.8,147L128,146.3Z"/>
<path fill="#ffaf00" d="M128,56L996,56L996,252.2L959.9,253L925.3,252L920.5,253L915.4,254L906,256L901.9,257L897.2,258L891.9,259L890.7,259.2L886.9,260L881.3,261L874.6,262L870.6,263L866.2,264L861.4,265L856.1,266L849.2,267L843.4,268L838.6,269L834.5,270L828.5,272L821.5,274.5L786.9,280L786,281L785,282L783.8,283L782.5,284L779.3,286L777.4,287L775.2,288L772.6,289L769.5,290L766.8,291L762.8,293L760.7,294L758.7,295L754.5,297L752.3,298L748.5,297L745,296L741.7,295L738.6,294L735.7,293L732.9,292L730.3,291L727.2,290L724.2,289L721.9,288L720.1,287L718.6,286L717.7,285.5L716.7,285L714.6,284L710.6,282L708.5,281L704.5,279L702.4,278L699.3,277L696.6,276L689.6,274L686.3,273L683.1,272L680,271L677,270L674.2,269L671.5,268L668.7,267L666.1,266L663.6,265L659.2,263L656.8,262L654,261L651.1,260L648.5,259L643.3,258L638.8,257L630.8,255L627.2,254L622.6,253L618.1,252L613.9,251L579.3,251L570.6,250L553.4,248L544.7,247L536.1,246L527.4,245L518.8,244L510.1,243L503.5,242L497.8,241L492.8,240L486.1,239L480.4,238L475.5,237L466.9,236L458.2,235L449.6,234L440.9,233L424.7,232L415,231L408.5,230L406.3,229.7L404.9,230L401.5,231L397.4,232L392.7,233L389,233.7L371.7,233.4L354,234L337.1,234.7L326.3,235L306.8,236L302.5,236.4L298.7,235L296.1,234L293.6,233L287.2,229L280.4,225L275,222L271.2,220L267.9,216.7L267.4,216L265,213L264.3,212L262.7,210L262,209L261.2,208L259.1,205L258.3,204L255.5,200L251.9,198L248.1,196L238.1,191L236,190L233.8,189L233.3,188.8L229.9,187L228.1,186L226.4,185L224.5,184L221.1,182L219.5,181L218.1,180L216.6,179L214,177L211.6,175L209.4,173L208.4,172L207.3,171L206.3,170L203.6,167L202.8,166L198.7,164.5L197,164L193.3,163L189.1,162L181.9,160L178.5,159L175.2,158L172,157L168.5,156L162.6,154L154.2,151L148.8,149L145.5,148L141.9,147L137.2,146L133,145L129.3,144L128,143.7Z"/>
<path fill="#ff8f00" d="M128,56L996,56L996,250.8L990,251L959.9,251.8L934,251L925.3,250.8L919.5,252L914.6,253L909.2,254L904.1,255L898.3,256L893.8,257L890.7,257.6L889.1,258L884.5,259L879.2,260L872.9,261L865.4,262L860.9,263L856.1,264L849.6,265L842.6,266L835.3,267L830.8,268L826.9,269L823.7,270L821.5,270.8L820.2,271L814.2,272L807.3,273L801.1,274L788.5,276L786.9,276.2L785.5,278L783.5,280L782.3,281L781,282L779.5,283L777.8,284L775.9,285L773.9,286L771.6,287L768.9,288L765.8,289L762.1,290L759,291L757,292L752.8,294L752.3,294.2L751.4,294L748.1,293L745,292L742.1,291L737.9,290L733.6,289L730.2,288L727.5,287L723.1,285L721.1,284L719.4,283L717.7,281.8L716.2,281L714.1,280L710.1,278L706.5,277L703.3,276L699.7,275L696.2,274L692.8,273L686.2,271L683.1,270L680.1,269L677.3,268L674.3,267L671.5,266L668.9,265L666.4,264L664.1,263L661.6,262L658.9,261L655.8,260L652.9,259L650.3,258L648.5,257.2L647.3,257L642.8,256L638.2,255L633.9,254L629,253L624.4,252L615.8,250L613.9,249.5L579.3,249.5L575,249L566.3,248L556.2,247L548.2,246L544.7,245.5L531.7,244L521.6,243L513.6,242L510.1,241.5L507,241L501.5,240L494.1,239L487.9,238L482.4,237L477.7,236L475.5,235.5L462.5,234L452.4,233L444.4,232L440.9,231.5L434.4,231L424.7,230L415.3,229L409.3,228L406.3,227.3L403.6,228L399.1,229L394.8,230L390.6,231L389,231.3L373.1,231L371.7,231L337.1,230L324.1,229L316.3,228L311.1,227L307.4,226L304.7,225L302.5,224L299.3,222L295.9,220L294.4,219L291.6,217L289.2,214L288.3,213L287.5,212L286.6,211L285.8,210L280.4,204L279.4,203L278.5,202L276.5,200L271.5,198L269.2,197L267.1,196L261.7,193L257.9,191L255.9,190L254,189L252,188L249.9,187L247.9,186L245.8,185L243.4,184L238.4,182L233.3,180.1L231.3,179L227.9,177L224.9,175L223.5,174L220.9,172L217.9,170L216.6,169L214.2,167L213.1,166L210.8,165L208.2,164L205.5,163L202.6,162L199.5,161L198.7,160.8L195.9,160L192.3,159L185.3,157L180.6,156L176.6,155L173,154L169.9,153L167.1,152L164.7,151L164.1,150.8L162,150L159.2,149L156.2,148L153,147L147.7,146L142.9,145L138.6,144L134.4,143L130.4,142L128,141.3Z"/>
<path fill="#ff7000" d="M128,56L996,56L996,249.6L980.6,250L959.9,250.6L940.7,250L925.3,249.6L923.4,250L919.1,251L913.8,252L908.6,253L903.1,254L897.4,255L890.7,256L887,257L882.5,258L877.4,259L871.5,260L864.5,261L856.1,262L849.9,263L843.4,264L836.5,265L829.2,266L821.5,267L817.8,268L813.4,269L808,270L801.2,271L792.4,272L786.9,272.7L786.6,273L785.2,275L783.4,277L782.4,278L781.3,279L780,280L778.6,281L777.1,282L775.3,283L773.1,284L768.5,286L765.8,287L762.7,288L759.1,289L754.8,290L752.3,290.7L748.7,290L742.9,289L738.5,288L735,287L732.1,286L729.4,285L726.8,284L724.6,283L722.7,282L721.2,281L719.8,280L718.7,279L717.7,278L713.6,277L710,276L706.3,275L702.7,274L699.2,273L695.8,272L692.5,271L689,270L685.8,269L683.1,268L679.9,267L676.9,266L674.1,265L671.5,264L666.5,262L663.7,261L660.4,260L657.4,259L654.6,258L652,257L649.6,256L648.5,255.6L645.6,255L640.5,254L635.5,253L630.8,252L626.3,251L621.5,250L617.2,249L613.9,248L579.3,248L567.8,247L558.5,246L551,245L544.7,244L533.2,243L523.9,242L516.4,241L510.1,240L502.1,239L495.3,238L489.3,237L484.1,236L479.2,235L475.5,234L464,233L454.7,232L447.2,231L440.9,230L428.1,229L419.8,228L414,227L409.6,226L406.3,225L402.7,226L398.6,227L394.1,228L389,229L371.7,228.6L361.1,228L348.6,227L341.6,226L337.1,225L330.9,224L326.1,223L322.3,222L319.1,221L316.5,220L314.2,219L312.3,218L310.6,217L310.1,216L309.5,215L305.5,207L305.1,206L304.6,205L303.8,203L303.3,202L302.5,200L299.3,199L296.3,198L293.4,197L288,195L285.5,194L280.7,192L276.3,190L274.2,189L272.2,188L268.4,186L267.9,185.7L264.5,184L260.3,182L258.1,181L255.7,180L251.8,179L248.3,178L245.2,177L242.4,176L239.8,175L237.4,174L235.3,173L233.3,172L231.4,171L229.6,170L227.9,169L226.3,168L224.8,167L223.4,166L221.4,165L219.2,164L216.9,163L214.4,162L210.7,161L207.3,160L204.2,159L201.4,158L198.7,157L192.7,156L187.7,155L183.3,154L179.5,153L176.1,152L173.2,151L170.5,150L165.9,148L164.1,147L158.1,146L152.8,145L148,144L143.4,143L139.2,142L135.2,141L131.5,140L128,139Z"/>
<path fill="#ff5000" d="M128,56L996,56L996,248.5L978,249L959.9,249.5L925.3,248.5L918.8,250L914,251L908,252L902.6,253L896.9,254L890.7,255L885.2,256L880.9,257L875.9,258L870.3,259L863.8,260L856.1,261L844,262L837.5,263L830.6,264L823.4,265L821.5,265.2L816,266L808.9,267L804.1,268L798.3,269L791.1,270L786.9,270.5L786.3,271L785.2,272L784.2,273L782.6,275L780.6,277L779.4,278L778.1,279L776.6,280L775,281L773.1,282L771,283L765.8,285L763.1,286L760,287L756.5,288L752.3,289L746.8,288L742.4,287L738.8,286L735.6,285L732.6,284L729.8,283L727.5,282L725.5,281L723.9,280L722.4,279L721.2,278L719.1,277L717.7,276.2L716.7,276L709.3,274L705.7,273L702.2,272L698.8,271L694.8,270L691.3,269L688.2,268L685.2,267L683.1,266.2L682.3,266L679.4,265L676.6,264L674,263L668.6,261L665,260L661.8,259L658.8,258L656.1,257L653.5,256L650.8,255L648.5,254.2L647.2,254L642,253L637.1,252L632.4,251L627.2,250L622.2,249L618.3,248L613.9,247L579.3,247L568.9,246L560.4,245L553.4,244L544.7,243L534.3,242L525.8,241L518.8,240L510.1,239L502.7,238L496.3,237L490.6,236L484.8,235L480.4,234L475.5,233L465.1,232L456.6,231L449.6,230L440.9,229L430.4,228L422.9,227L417.5,226L412.6,225L407.4,224L406.3,223.8L404.4,224L398.2,225L394.1,226L389.6,227L389,227.1L384.7,227L371.7,226.6L364.2,226L355.6,225L349.5,224L345.6,223L342.1,222L338.9,221L337.1,220.4L335.5,220L331.8,219L328.7,218L325.9,217L323.1,213L322.5,212L321.8,211L317.6,204L317.1,203L316.5,202L315.5,200L311,197L307.8,195L306.1,194L304.3,193L302.6,192L302.5,192L299.9,191L294.9,189L292.5,188L290.2,187L285.8,185L283.3,184L280.9,183L278.8,182L276.8,181L275,180L271.8,179L268.5,178L267.9,177.8L264.5,177L260.8,176L257.4,175L254.2,174L251.4,173L243.3,170L240.8,169L238.4,168L233.3,165.8L232,165L230.2,164L228.3,163L226.2,162L222,161L218.2,160L214.6,159L211.3,158L208.3,157L203.6,156L198.7,155L193.6,154L189.1,153L185.2,152L181.7,151L178.6,150L175.8,149L172.6,148L170.1,147L166.5,146L164.1,145.2L162.7,145L157.4,144L152.5,143L147.9,142L143.6,141L139.6,140L135,139L130.1,138L128,137.5Z"/>
<path fill="#ff3000" d="M128,56L996,56L996,247.5L978,248L959.9,248.5L925.3,247.5L923.2,248L918.8,249L914.1,250L908.8,251L902.2,252L896.7,253L890.7,254L885.3,255L879.7,256L874.9,257L869.3,258L863.2,259L856.1,260L841.9,261L831.9,262L825,263L821.5,263.5L817.9,264L810.1,265L803,266L796.3,267L790.3,268L786.9,268.5L786.4,269L785.3,270L782.9,272L781.8,273L780,275L778.9,276L777.7,277L774.9,279L773.2,280L771.3,281L769.2,282L766.7,283L763.8,284L760.7,285L757.7,286L754.2,287L752.3,287.5L749.8,287L745.6,286L741.9,285L738.3,284L734.9,283L732.2,282L729.9,281L727.9,280L726.2,279L724.7,278L722.5,277L720.5,276L718.6,275L717.7,274.5L715.8,274L708.6,272L705.1,271L700.7,270L696.8,269L693.4,268L690.1,267L687.1,266L684.4,265L683.1,264.5L678.9,263L676.2,262L673.4,261L669.7,260L666.2,259L663.1,258L660.2,257L657.5,256L654.6,255L651.5,254L648.5,253L643.4,252L638.6,251L632.8,250L627.2,249L622.8,248L618.2,247L613.9,246L579.3,246L569.9,245L562,244L553.1,243L544.7,242L535.3,241L527.4,240L517.8,239L510.1,238L503.2,237L497.1,236L490.4,235L485.4,234L480.1,233L475.5,232L466.1,231L458.2,230L448.6,229L440.9,228L431.9,227L425.3,226L418.9,225L413,224L408.3,223L406.3,222.5L402,223L395.2,224L390.1,225L389,225.2L371.7,224.8L365.4,224L360.7,223L356.4,222L352.6,221L349.1,220L346.8,219L344.2,218L341.3,217L339.5,215L338.7,214L337.8,213L335.4,210L334.7,209L333.9,208L329.7,202L328.5,200L327.2,199L325.8,198L324.5,197L321.7,195L318.7,193L315.5,191L312.1,189L308.5,187L304.7,185L298.3,183L295.4,182L292.7,181L290.3,180L287.3,179L284.2,178L281,177L274.4,175L267.5,173L264.2,172L261.1,171L258.1,170L255.2,169L252.5,168L249.9,167L247.4,166L242.6,164L240.4,163L238.3,162L233.3,161L229,160L225,159L221.3,158L217.9,157L213.5,156L207.6,155L202.7,154L198.7,153L194.2,152L190.2,151L186.6,150L183.4,149L179.3,148L176,147L172.1,146L168.7,145L165.5,144L164.1,143.5L161.5,143L156.6,142L152.1,141L147.8,140L142.1,139L136.6,138L132,137L128,136Z"/>
<path fill="#ff1000" d="M128,56L996,56L996,246.5L978,247L959.9,247.5L925.3,246.5L923.2,247L918.9,248L914.5,249L909.5,250L903.6,251L896.5,252L890.7,253L885.4,254L879.9,255L874.1,256L868.9,257L862.7,258L856.1,259L838.8,260L827.6,261L821.5,261.8L820.1,262L813.5,263L805.3,264L796.9,265L790.1,266L786.9,266.5L786.4,267L783.1,270L781.9,271L780.6,272L777.3,275L776.1,276L774.8,277L773.3,278L771.6,279L769.7,280L767.6,281L765.2,282L762.4,283L759.1,284L752.3,286L748.1,285L744,284L740.1,283L736.9,282L734.2,281L731.9,280L729.9,279L728.2,278L725.9,277L723.8,276L721.8,275L719.9,274L717.7,272.8L715,272L711.4,271L706.5,270L702.3,269L698.5,268L695,267L691.8,266L688.9,265L686.2,264L683.7,263L683.1,262.8L681,262L678.3,261L674.3,260L670.6,259L667.3,258L664.2,257L661.4,256L658.5,255L655.3,254L652.2,253L649.2,252L648.5,251.8L644.8,251L632.2,249L627.2,248L622.5,247L613.9,245L579.3,245L570.6,244L561.4,243L552.8,242L544.7,241L536.1,240L525.4,239L517,238L510.1,237L503.6,236L496,235L490.3,234L484.7,233L475.5,231L466.9,230L456.2,229L447.8,228L440.9,227L433.1,226L425.1,225L418.5,224L413.3,223L409.2,222L406.3,221.2L398.5,222L391.2,223L389,223.4L381.6,223L371.7,222.2L370.7,222L366.2,221L362.1,220L360.6,219L358.9,218L357,217L356.1,216L355.1,215L354.2,214L353.2,213L352.3,212L350.8,209L349,206L346.9,203L346.1,202L344.3,200L337.1,196.2L336.8,196L335.6,195L333,193L328.8,190L325.8,188L322.6,186L320.9,185L318.6,184L316.1,183L313.3,182L309.8,181L306.2,180L302.7,179L302.5,178.9L296.8,177L290.6,175L287.6,174L284.5,173L281.2,172L277.8,171L274.1,170L267.9,168.4L266.6,168L263.7,167L260.9,166L258.2,165L255.6,164L253.1,163L250.8,162L246.7,161L242,160L235.8,159L233.3,158.5L231.3,158L227.5,157L223.4,156L216.4,155L210.7,154L206,153L202.1,152L198.7,151L194.7,150L191.1,149L185.9,148L182,147L177.8,146L174,145L170.6,144L167.6,143L164.8,142L164.1,141.8L160.5,141L155.9,140L149.1,139L143,138L137.9,137L133.5,136L129.7,135L128,134.5Z"/>
<path fill="#f00000" d="M128,56L996,56L996,245.6L979.1,246L959.9,246.5L941.5,246L925.3,245.6L923.2,246L914.6,248L910.2,249L904.8,250L898.5,251L890.7,252L885.5,253L880.1,254L874.5,255L868.6,256L862.9,257L856.1,258L836.4,259L821.5,260L816.2,261L809.9,262L802.2,263L792.6,264L786.9,264.6L786.4,265L784.4,267L783.3,268L780.9,270L778.3,272L777.1,273L776,274L773.4,276L771.9,277L770.2,278L768.4,279L766.3,280L764,281L761.3,282L758.1,283L754.4,284L752.3,284.6L745.3,283L741.6,282L738.5,281L735.9,280L733.7,279L731.7,278L729.3,277L727.1,276L725,275L723,274L721.1,273L717.7,271L712.4,270L707.8,269L703.7,268L699.9,267L696.5,266L693.3,265L690.5,264L687.8,263L685.4,262L683.1,261L678.9,260L675.1,259L671.6,258L668.3,257L662.3,255L659.1,254L652.9,252L650,251L648.5,250.7L644.2,250L637.2,249L631.7,248L626.8,247L622.4,246L618.1,245L613.9,244L579.3,244L569.8,243L560.9,242L552.6,241L544.7,240L533.1,239L523.9,238L516.4,237L510.1,236L501.6,235L495.2,234L489.3,233L484.6,232L480,231L475.5,230L463.9,229L454.7,228L447.2,227L440.9,226L431.4,225L424.1,224L418.3,223L414,222L410,221L406.3,220L393.3,221L389,221.5L383.7,221L378.2,220L375.9,219L374.2,218L372.8,217L371.7,216L370.7,215L369.6,214L367.6,212L367.1,207L366.9,206L366.8,205L366.6,204L366.5,203L365.9,200L362.5,198L355.3,194L353.4,193L350.6,192L348,191L345.8,190L343.7,189L341.8,188L340.1,187L338.3,186L337.1,185L335.6,184L333.9,183L332.1,182L328.5,181L325,180L321.4,179L307.4,175L304.1,174L302.5,173.3L301.6,173L298.8,172L295.8,171L292.6,170L289.3,169L285.7,168L282,167L277.9,166L273.7,165L267.9,163.8L265.9,163L263.2,162L260.1,161L256.4,160L248.4,159L242.2,158L237.3,157L233.3,156L225.3,155L218.8,154L213.4,153L208.8,152L205,151L201.6,150L198.7,149L192.6,148L187.9,147L183.4,146L179.3,145L175.7,144L172.4,143L169.4,142L166.6,141L164.1,140L156.1,139L149.5,138L143.9,137L139.1,136L134.9,135L131.3,134L128,133Z"/>
<path fill="#d30000" d="M128,56L996,56L996,244.8L986.7,245L959.9,245.6L934.3,245L925.3,244.8L924.2,245L919,246L914.7,247L905.9,249L900.1,250L893.3,251L890.7,251.3L885.5,252L880.2,253L874.8,254L869.1,255L863.1,256L856.9,257L856.1,257.1L833.2,258L821.5,258.7L813,260L807,261L799.8,262L791,263L786.9,263.4L785.9,264L784.5,265L783.4,266L782.4,267L780,269L777.4,271L776,272L774.7,273L773.5,274L770.7,276L769,277L767.2,278L765.2,279L762.9,280L760.3,281L757.3,282L753.8,283L752.3,283.4L750.4,283L746.3,282L742.9,281L739.9,280L737.4,279L735.2,278L732.7,277L730.3,276L728.1,275L724.1,273L720.5,271L717.7,269.9L713.2,269L708.8,268L704.8,267L701.2,266L697.8,265L694.8,264L691.9,263L689.3,262L686.9,261L683.5,260L679.5,259L675.8,258L672.4,257L669.2,256L666.1,255L659.7,253L656.6,252L653.6,251L649.4,250L648.5,249.8L642.2,249L636.1,248L631.1,247L622.3,245L618.1,244L613.9,243.1L579.3,243.1L578.2,243L569,242L560.4,241L552.3,240L544.7,239.3L540.8,239L530.8,238L522.6,237L516.3,236L510.1,235.3L507.2,235L500.1,234L493.9,233L484.5,231L480,230L475.5,229.3L471.6,229L461.6,228L453.4,227L447.1,226L440.9,225.3L437.7,225L429.7,224L423.3,223L418.8,222L414.6,221L410.8,220L406.3,219.3L396.4,219L390.6,218L389,216.9L386.7,216L384.4,215L381.7,212L381.2,211L379.6,207L379.3,206L378.9,205L378.6,204L378.4,203L378.1,202L377.9,201L377.6,200L376.4,199L375.4,198L374.6,197L373.4,195L373,194L372.5,193L371.7,191.9L368.5,191L365.2,190L362.2,189L359.5,188L357,187L352.2,186L348.9,185L346.4,184L344.5,183L343,182L341.2,181L339.6,180L338.2,179L337.1,178.1L336.6,178L333,177L326,175L319.2,174L314.5,173L311.2,172L308.6,171L306.5,170L304.9,169L303.5,168L302.5,167.1L298.9,166L295.3,165L286.9,164L280.9,163L276.4,162L272.9,161L270.1,160L267.9,159.7L261,159L253.4,158L247.4,157L242.4,156L234.2,155L233.3,154.9L226.8,154L220.7,153L215.6,152L211.2,151L207.4,150L204.2,149L193.9,147L189,146L184.7,145L180.8,144L177.2,143L174,142L171,141L168.3,140L164.1,139.1L163.2,139L155.9,138L149.8,137L144.6,136L140.1,135L136.2,134L132.7,133L128,132.1Z"/>
<path fill="#b60000" d="M128,56L996,56L996,244.2L959.9,244.7L925.3,244.2L919.9,245L914.8,246L910.5,247L906.1,248L901.6,249L895.5,250L890.7,250.7L888,251L880.3,252L875,253L869.5,254L863.7,255L857.6,256L856.1,256.2L829.6,257L821.5,257.4L817.6,258L811.3,259L797.7,261L789.6,262L786.9,262.3L785.7,263L783.9,264L782.6,265L781.5,266L777.9,269L776.6,270L775.2,271L773.7,272L772.3,273L771,274L769.5,275L767.9,276L766.1,277L764.2,278L761.9,279L759.4,280L756.6,281L753.4,282L752.3,282.3L751,282L747.2,281L743.9,280L741.1,279L738.7,278L736.1,277L733.6,276L731.3,275L729.1,274L727.1,273L725.2,272L723.4,271L717.7,268.8L714,268L709.7,267L705.8,266L702.3,265L699,264L696.1,263L693.3,262L690.7,261L687.3,260L683.1,258.8L680,258L676.5,257L669.9,255L660.3,252L657.3,251L653.2,250L648.5,249.2L640.6,248L635.3,247L630.9,246L622.3,244L617.6,243L613.9,242.2L579.3,242.2L577.1,242L568.3,241L560,240L548.8,239L544.7,238.7L537.7,238L528.9,237L522.5,236L513.4,235L510.1,234.7L505.1,234L498.5,233L493.7,232L489,231L484.4,230L477.8,229L475.5,228.7L468.5,228L459.7,227L453.3,226L444.2,225L440.9,224.7L435.2,224L428.3,223L423.6,222L419.3,221L415.2,220L408.6,219L406.3,218.7L398.3,218L394,217L392.3,216L391.2,215L390.6,214L389.7,211L389.6,210L389.4,209L389,205.2L388.8,205L387.4,203L386.8,202L385.8,200L383.6,199L381.9,198L380.5,197L379.3,196L378.3,195L376.7,193L374.9,191L374.1,190L372.7,188L372.1,187L371.7,186.8L366.1,186L360.7,185L356.7,184L353.6,183L351.2,182L348.7,181L346.5,180L344.7,179L343.1,178L341.6,177L340.3,176L339.2,175L337.1,174.3L334.3,174L327.3,173L322.1,172L318.3,171L315.2,170L312.7,169L310.7,168L309,167L307.5,166L306.3,165L303.2,164L302.5,163.8L296.3,163L289.9,162L284.9,161L280.9,160L273.2,159L267.9,158.4L264.6,158L257.4,157L251.6,156L243.7,155L235.2,154L233.3,153.8L228,153L222.3,152L217.5,151L213.3,150L209.6,149L204.7,148L194.6,146L190,145L185.8,144L182.1,143L178.6,142L175.5,141L172.6,140L164.1,138.2L162.4,138L155.8,137L150.1,136L145.4,135L141.1,134L137.3,133L132.1,132L128,131.2Z"/>
<path fill="#9a0000" d="M128,56L996,56L996,243.5L959.9,243.9L925.3,243.5L922,244L915.6,245L910.6,246L901.8,248L897.3,249L890.8,250L890.7,250L882.4,251L875.1,252L869.7,253L864.2,254L858.3,255L856.1,255.4L822.5,256L821.5,256L815.9,257L809.7,258L803.1,259L796.1,260L788.5,261L786.9,261.2L783.8,263L782,264L780.6,265L779.5,266L777.1,268L775.8,269L774.4,270L769.9,273L768.5,274L766.9,275L765.2,276L763.3,277L761.1,278L758.7,279L756,280L752.3,281.2L751.5,281L748,280L744.9,279L742.2,278L739.4,277L736.9,276L734.5,275L732.2,274L730.1,273L728.1,272L726.2,271L723.6,270L721.1,269L717.7,267.7L714.6,267L710.5,266L706.8,265L703.3,264L700.2,263L697.3,262L694.5,261L691.1,260L687.6,259L684.2,258L680.5,257L677.1,256L673.8,255L670.4,254L664,252L660.9,251L656.9,250L651.4,249L648.5,248.5L645,248L639.6,247L630.8,245L626.5,244L621.8,243L617,242L613.9,241.4L579.3,241.4L576.2,241L567.6,240L557.3,239L544.7,238L544.5,238L535.1,237L528.6,236L520.1,235L510.1,234L510,234L503.1,233L498.3,232L488.9,230L482.6,229L475.5,228L475.3,228L465.9,227L459.4,226L450.9,225L440.9,224L440.8,224L433.2,223L428.4,222L423.9,221L419.7,220L413.4,219L406.3,218L406.1,218L398.8,217L396.2,216L394.4,215L393.4,214L392.6,213L392,212L391.2,210L390.9,209L390.1,205L390,204L389.8,203L389.5,200L389,198.3L388.3,198L386.3,197L384.6,196L383.2,195L382,194L380.9,193L379.7,192L377.7,190L376.8,189L376,188L375.3,187L371.7,184.9L366.9,184L362.6,183L359.3,182L356.2,181L353.5,180L351.2,179L349.2,178L347.4,177L345.8,176L344.4,175L341.4,174L337.1,172.6L333.1,172L327.9,171L323.8,170L320.5,169L317.8,168L315.5,167L313.6,166L311.9,165L308.8,164L305.8,163L302.9,162L302.5,161.9L296.9,161L291.7,160L284.7,159L276.7,158L267.9,157.1L267.5,157L260.7,156L253.3,155L245.1,154L236.2,153L233.3,152.7L229.1,152L223.7,151L219.1,150L215.1,149L210.1,148L205.2,147L198.7,145.7L195.4,145L190.9,144L186.9,143L183.2,142L179.9,141L176.8,140L172.2,139L167.4,138L164.1,137.4L155.6,136L150.6,135L146.1,134L142,133L136.8,132L131.5,131L128,130.4Z"/>
<path fill="#8b0000" d="M128,56L996,56L996,242.8L959.9,243L925.3,242.8L924.2,243L917.4,244L911.3,245L906.4,246L902,247L893,249L890.7,249.4L884.8,250L876.9,251L869.9,252L864.5,253L856.1,254.5L821.5,254.7L819.9,255L814.3,256L808.3,257L801.8,258L795,259L786.9,260.1L785.3,261L781.9,263L780.1,264L778.7,265L776.3,267L775,268L772.2,270L770.7,271L769.1,272L767.6,273L766,274L764.3,275L762.4,276L760.4,277L758.1,278L755.5,279L752.3,280.1L748.6,279L742.8,277L740.2,276L737.7,275L735.3,274L733.1,273L731,272L729,271L726.4,270L723.9,269L721.3,268L718.8,267L717.7,266.6L715.2,266L711.3,265L707.6,264L704.3,263L701.2,262L698.4,261L691.4,259L688,258L681,256L674.2,254L670.9,253L667.7,252L664.6,251L660.7,250L655.5,249L649.5,248L648.5,247.8L643.9,247L639.4,246L630.6,244L626,243L621.3,242L616.5,241L613.9,240.5L579.3,240.5L575.2,240L565.8,239L554,238L544.7,237.4L541.4,237L534.8,236L526.8,235L517.3,234L510.1,233.4L507.7,233L502.8,232L493.4,230L487.3,229L480.4,228L472.2,227L465.6,226L457.6,225L448.1,224L440.9,223.4L438.2,223L433.2,222L428.5,221L424.2,220L418.1,219L411.2,218L406.3,217.4L403.7,217L400.1,216L397.6,215L396.1,214L395,213L394.1,212L393.4,211L392.9,210L392.1,208L391.2,205L390.8,203L390.7,202L390.5,201L390.4,200L390,199L389,195.5L388.1,195L385.1,193L383.7,192L382.4,191L381.3,190L379.3,188L378.5,187L376.9,186L373.5,184L371.7,183L367.4,182L363.7,181L360.5,180L357.8,179L355.3,178L353.2,177L351.3,176L349.6,175L343.6,173L337.1,170.9L332.5,170L328.3,169L324.9,168L322.1,167L319.6,166L317.5,165L314.4,164L305.4,161L302.5,160L296.3,159L289.2,158L280.9,157L271,156L267.9,155.7L262.8,155L255.1,154L246.7,153L237.4,152L233.3,151.6L230,151L224.9,150L220.5,149L215.6,148L210.6,147L205.7,146L198.7,144.6L196,144L191.7,143L187.9,142L184.3,141L181.1,140L176.6,139L171.9,138L166.9,137L161.2,136L155.8,135L151,134L146.7,133L141.5,132L130.9,130L128,129.5Z"/>
<path fill="#000080" d="M345,459L380,457.5L400,456L430,455.5L441,453.5L450,450L460,448L470,446.3L508,446.3L520,447.3L533,448.7L550,450.3L566,451.7L580,453.3L600,454.2L760,454.6L855,455L866,453.5L877,451.7L893,450L910,449.7L940,449.8L960,451.5L977,453.3L995,455L996,461L345,461Z"/>
</g>
<rect x="129" y="58" width="1" height="401" fill="url(#lc)" shape-rendering="crispEdges"/>
<g id="axes" shape-rendering="crispEdges">
<g clip-path="url(#nv)"><path class="ax" d="M130.5,460v-8M164.5,460v-4M199.5,460v-4M233.5,460v-4M268.5,460v-4M302.5,460v-8M337.5,460v-4M371.5,460v-4M406.5,460v-4M441.5,460v-4M475.5,460v-8M510.5,460v-4M544.5,460v-4M579.5,460v-4M613.5,460v-4M648.5,460v-8M682.5,460v-4M717.5,460v-4M752.5,460v-4M786.5,460v-4M821.5,460v-8M855.5,460v-4M890.5,460v-4M924.5,460v-4M959.5,460v-4M994.5,460v-8"/></g>
<path class="ax" d="M130,57.5H994.5V460.5H130"/>
<rect x="130" y="501" width="868" height="6" fill="url(#cb)"/>
<path class="ax" d="M130,500.5H996"/>
</g>
<g id="contours" clip-path="url(#lbox)">
<path class="cl" d="M129,71.2L145,68L162.5,65L177.5,60.7L188.7,57M129,105.5L153.7,101.2L163.7,93.7L217.5,82L245,70.5M265,62.5L286,57M129,113L195,103L232.5,92.5L282.5,85.5L307.5,78L370,64.5L397.5,57M129,129L140,123.7L202.5,118L242.5,105L300,96.2L327.5,93M347.5,89.5L372.5,85L390,83.5L440,80L475,72L513.7,72L545,77.5L577.5,101.2L613.7,117L620,124.2L645,145L676,170.7L687.5,180L696.7,189.2L715,203.3L716.7,215.8L726.7,235L733.3,251.7L734.2,260L734.2,280L729.2,301.7L725,315L718.3,326.7L703.3,338.3L683.3,356.7L661.7,365M645,373.3L640,374L578.7,380.5L542.5,385.7L506,381L475,387.5L441,377L415,372.5L377.5,352.5L372.5,345.7L335,331L302.5,336.7L270,336L232.5,330L181,324M158,322.5L129,318M129,172.5L157.5,141.2L165,138.7L200,136.2L240,126.2L272.5,124.2L307.5,109.2L337.5,103L390,102.5L440,103L477.5,103.7L545,118.7L585,136.2L620,166L645.8,180L658.3,187.5L671.7,200.8L683.3,214.2L693.3,227.5L706.7,240L716.7,252.5L719.2,261.7L721.7,279L718.3,299L713.3,306L683.3,340L648.3,348.7L640,349.5L578.7,355L542.5,363L506,357.5L475,361.7L441,345.7L417.5,327.5L402.5,303.7L372.5,284.5L335,283.2L302.5,296.7L270,297.5L220,298.2L200,302L163.7,301.2L129,295.5M129,200L142.5,187.5L157.5,176.2L165,161.2L192.5,145L270,139.5L320,130L337.5,122.5L370,122L395,120M416,118L440,118.7L475,125L510,141L540,160L585,171L610,180L616.7,183.7L637.5,205L643.3,211.7L661.7,223.3L683.3,238.3L695,248.3L700.8,258.3L704.2,267.5L705,276.7L700.8,291.7L696.7,298.3M679,314L648.3,323L640,323.2L578.7,325L542.5,326.7L475,319.2L441,296.2L405,267L370,258.7L357.5,258L337.5,260L270,274.2L250,278.7M228,282L200,282.5L163.7,281.2L145,268.7L135,225L129,217.5M180,194L216,165.5L250,158.7L300,152L332.5,139.5L345,138.7L370,142L440,145.5L477.5,157.5L525,168L575,181L596,195L603.7,208.7L610,212.5L625.8,223L648.3,233.3L668.3,248.7L684.2,261.7L685,277.5L681.7,283.3L665,290.8L648.3,296.7L625,295L610,294.2L595,295L578.7,295.7L542.5,290L510,284.5L475,271.7L441,247L412.5,243L390,242L332.5,243.7L302.5,247.5L232.5,262.5L200,262.5L171,246L170,208.7L180,194M395,155.5L415,156.2L440,158.7L530,188.7L531,202.5L613.7,232.5L627.5,245.5L628,258.7L578.7,265L542.5,257.5L522.5,248.7M506,239.5L475,227.5L445,223.7L407.5,223.7L372.5,222.5L300,210.5L232.5,220.7L223.7,213.7L230,196.2L270,178.7L370,166.2L380,158.7M606,57L620,71.2L631,81.2L660,108.7L682.5,127.5L697.5,146.2L730,172.5L733.3,180L741.7,192.5L742.5,205L749.2,228.3L751.3,241.7L748.3,253.3L748.3,260L745,281.7L740,301.7L733.3,318.3L726.7,333.3L719.2,340L683.3,378L648.3,395.8L640,397.5L613.7,403.2L578.7,403.7L542.5,406.7L506,401.7L475,412.5L457.5,402.5L442.5,397.5L405,398.7L370,392.5L337.5,380L305,372.5L267.5,369L232.5,357.5L200,345L129,337M685,57L701,75L735,108.7L742.5,148.7L752.5,155L796,174.2L798.7,193L790,199L781.7,205.8L784.2,219.5L788.3,230.8L770,252.5L767.5,260L764.2,269M755,291L751.7,295.8L743.3,315L740,333.3L737.5,340L734.2,358.7L715.8,375.8L709.2,395L710.8,411.3L746.7,422.5L751.7,426.7L755,431.7L736.7,440L730,446.7L730,452L716.7,453L700,451.7L668.3,450.8L613.3,449.7L580,446.7L555.8,442.5L551.7,435.8L565,435.5M585,432.5L609,432M129,360L151,361.2M171,365.5L200,372.5L232.5,383.7L267.5,393.7L302.5,402.5L337.5,413L370,416.7L405,419.5L442.5,415.5L462.5,425L472.5,433.2L510,424.5L542.5,430.5L580,430.5L593,430.8L596.7,432L609,432M677,432L686,432M129,385L157.5,389.5L163.7,398.7L180.7,408L165,410.5L131,423L165,428L186,435L223.7,435L238.7,422.5L270,420L337.5,432.5L370,433L392.5,433L401,441L402,451.7L398.7,454L406,457L426,452.5L411,447L410,441.5L435,432.5L441.5,433L445,440L444,446L448.5,450L470,446.5L508,446.3L533,448.7M129,440L137.5,440M151,441L192.5,443.7L202.5,448.7L215,459M302.5,455L318.7,455M761.2,57L780,73.7L792.5,87.5L812.5,111.2L821.2,125.7L855,132.5L890,128L921.2,113.7L923.7,108L957.5,91.2L994,91.2M994,182.5L952.5,182.5L925,185.5L892.5,193.7L880,200L855,208.3L846.7,230.8L821.7,249.2L785.8,264.2L781.7,268.3L776.7,286.7L770,297.5L755,315.8L756,330L757.5,338L776.7,358.3L786,366L810,377.5L815,396L827.5,411L857.5,422.5L805,440L801.5,442L807.5,455.5M994,227.3L946.7,227.5L923.3,230L890,236.7L855,249.2L845,253.3L825,268.3L821.7,273.3L807.5,283.3M798.3,291.7L791.7,297.5L782.5,317.5L784.2,328.3L788.3,338.3L820.8,352.8L845.8,358.3L861.5,376L862,395L895,407L890,412.5L886,421L880,430L843.5,441.7L855,448.5L890,444.7L958,444.7L969,445.8M983,447.2L994,447.2"/>
<path class="dl" d="M993.7,427L987.5,425L987.5,410L982.5,396.2L957.5,383.7L927.5,356.2L915,351.5L890,343L873.3,333.3L860,328.3L844.2,324.2L825.8,321.3L820.8,320.3L818.7,316.7L820,311.7L828.3,294.2L836.7,281.7L845,268.3L851.7,262.5L876.7,254.2L905,246.7L923.3,243.3L933.3,244.7L946.7,248.3L960,252.5L946.7,259.2L933.3,266.7L927.5,275L926.7,279.7L930.8,282.5L946.7,295.5L958.7,303.7L993.7,311.2"/>
</g>
<g id="clabels">
<text class="lb" transform="translate(255,66) rotate(-16)" dy="4.6">10</text>
<text class="lb" transform="translate(337.5,90.5) rotate(-4)" dy="4.6">20</text>
<text class="lb" transform="translate(653,368.5) rotate(-20)" dy="4.6">20</text>
<text class="lb" transform="translate(170,322.5) rotate(5)" dy="4.6">20</text>
<text class="lb" transform="translate(406,118.5) rotate(0)" dy="4.6">30</text>
<text class="lb" transform="translate(687.5,308) rotate(-45)" dy="4.6">30</text>
<text class="lb" transform="translate(240,279.5) rotate(-5)" dy="4.6">30</text>
<text class="lb" transform="translate(515,244) rotate(22)" dy="4.6">40</text>
<text class="lb" transform="translate(386,155) rotate(-35)" dy="4.6">40</text>
<text class="lb" transform="translate(759,281.5) rotate(-62)" dy="4.6">10</text>
<text class="lb" transform="translate(575,433.5) rotate(0)" dy="4.6">10</text>
<text class="lb" transform="translate(161,361.5) rotate(3)" dy="4.6">10</text>
<text class="lb" transform="translate(143.7,439.5) rotate(0)" dy="4.6">0</text>
<text class="lb" transform="translate(802.8,287.5) rotate(-50)" dy="4.6">0</text>
<text class="lb" transform="translate(976.5,445.5) rotate(0)" dy="4.6">0</text>
</g>
<g id="labels">
<text class="tt" x="335" y="50" font-size="16" textLength="10.5" lengthAdjust="spacingAndGlyphs">O</text>
<text class="ta" x="347" y="54" font-size="11" textLength="5.5" lengthAdjust="spacingAndGlyphs">3</text>
<text class="tt" x="361.2" y="50" font-size="16" textLength="82.5" lengthAdjust="spacingAndGlyphs">Latitudinal</text>
<text class="tt" x="453.7" y="50" font-size="16" textLength="81.5" lengthAdjust="spacingAndGlyphs">Y−Section</text>
<text class="tt" x="546.2" y="50" font-size="16" textLength="36.3" lengthAdjust="spacingAndGlyphs">66hr</text>
<text class="tt" x="600.5" y="50" font-size="16" textLength="17" lengthAdjust="spacingAndGlyphs">Fx</text>
<text class="tt" x="627" y="50" font-size="16" textLength="36" lengthAdjust="spacingAndGlyphs">Valid</text>
<text class="tt" x="673.7" y="50" font-size="16" textLength="30" lengthAdjust="spacingAndGlyphs">06Z</text>
<text class="tt" x="713.7" y="50" font-size="16" textLength="80" lengthAdjust="spacingAndGlyphs">20251101</text>
<text class="ta" x="110.5" y="66" font-size="14.2" textLength="15" lengthAdjust="spacingAndGlyphs">20</text>
<text class="ta" x="110.5" y="163" font-size="14.2" textLength="15" lengthAdjust="spacingAndGlyphs">15</text>
<text class="ta" x="110.5" y="264" font-size="14.2" textLength="15" lengthAdjust="spacingAndGlyphs">10</text>
<text class="ta" x="118" y="365" font-size="14.2" textLength="7.5" lengthAdjust="spacingAndGlyphs">5</text>
<text class="ta" x="118" y="461" font-size="14.2" textLength="7.5" lengthAdjust="spacingAndGlyphs">0</text>
<text class="ta" x="98" y="302" font-size="14.2" textLength="85" lengthAdjust="spacingAndGlyphs" transform="rotate(-90 98 302)">Altitude (km)</text>
<text class="ta" x="121.6" y="478.9" font-size="14.2" textLength="16" lengthAdjust="spacingAndGlyphs">25</text>
<text class="ta" x="294.4" y="478.9" font-size="14.2" textLength="16" lengthAdjust="spacingAndGlyphs">30</text>
<text class="ta" x="467.2" y="478.9" font-size="14.2" textLength="16" lengthAdjust="spacingAndGlyphs">35</text>
<text class="ta" x="640" y="478.9" font-size="14.2" textLength="16" lengthAdjust="spacingAndGlyphs">40</text>
<text class="ta" x="812.8" y="478.9" font-size="14.2" textLength="16" lengthAdjust="spacingAndGlyphs">45</text>
<text class="ta" x="985.6" y="478.9" font-size="14.2" textLength="16" lengthAdjust="spacingAndGlyphs">50</text>
<text class="ta" x="536.7" y="494.5" font-size="14.2" textLength="51" lengthAdjust="spacingAndGlyphs">Latitude</text>
<text class="ta" x="125.8" y="525" font-size="14.2" textLength="7.5" lengthAdjust="spacingAndGlyphs">0</text>
<text class="ta" x="265.6" y="525" font-size="14.2" textLength="16" lengthAdjust="spacingAndGlyphs">20</text>
<text class="ta" x="409.6" y="525" font-size="14.2" textLength="16" lengthAdjust="spacingAndGlyphs">40</text>
<text class="ta" x="553.6" y="525" font-size="14.2" textLength="16" lengthAdjust="spacingAndGlyphs">60</text>
<text class="ta" x="697.6" y="525" font-size="14.2" textLength="16" lengthAdjust="spacingAndGlyphs">80</text>
<text class="ta" x="838.6" y="525" font-size="14.2" textLength="23.5" lengthAdjust="spacingAndGlyphs">100</text>
<text class="ta" x="982.6" y="525" font-size="14.2" textLength="23.5" lengthAdjust="spacingAndGlyphs">120</text>
<text class="ta" x="541.3" y="540" font-size="14.2" textLength="41.2" lengthAdjust="spacingAndGlyphs">(ppbv)</text>
<text class="tb" x="141.7" y="562.3" font-size="22" textLength="62.2" lengthAdjust="spacingAndGlyphs">Detroit</text>
<text class="tb" x="216.5" y="562.3" font-size="22" textLength="62.2" lengthAdjust="spacingAndGlyphs">(83°W)</text>
<text class="tb" x="281.7" y="562.3" font-size="22" textLength="88.2" lengthAdjust="spacingAndGlyphs">Initialized</text>
<text class="tb" x="385.4" y="562.3" font-size="22" textLength="33.1" lengthAdjust="spacingAndGlyphs">12Z</text>
<text class="tb" x="431.1" y="562.3" font-size="22" textLength="97.2" lengthAdjust="spacingAndGlyphs">20251029</text>
</g>
</svg>
</body>
</html>
